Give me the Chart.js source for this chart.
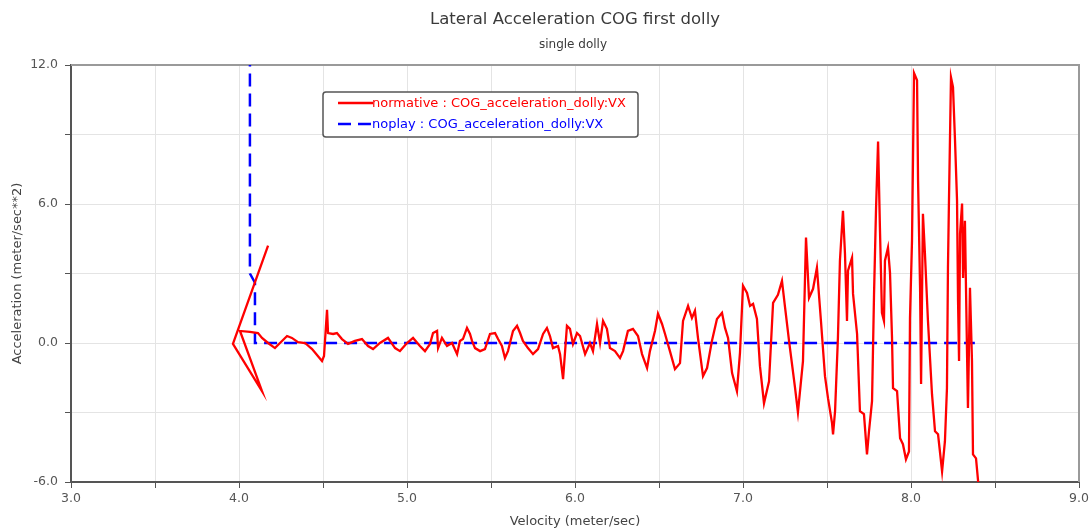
<!DOCTYPE html>
<html>
<head>
<meta charset="utf-8">
<title>Lateral Acceleration COG first dolly</title>
<script src="https://cdn.jsdelivr.net/npm/chart.js@4.4.1/dist/chart.umd.min.js"></script>
<style>
  html, body { margin: 0; padding: 0; background: #fff; }
  #wrap { width: 1092px; height: 529px; }
</style>
</head>
<body>
<div id="wrap"><canvas id="chart" width="1092" height="529"></canvas></div>
<script>
/* Lateral acceleration of the first dolly COG against vehicle velocity */

const chartTitle = 'Lateral Acceleration COG first dolly';
const chartSubtitle = 'single dolly';
const xTitle = 'Velocity (meter/sec)';
const yTitle = 'Acceleration (meter/sec**2)';

const seriesNames = ['normative : COG_acceleration_dolly:VX', 'noplay : COG_acceleration_dolly:VX'];

// normative run: velocity (m/s) and lateral acceleration (m/s^2)
const normVelocity = [
  4.173, 3.964, 4.137, 4.006, 4.065, 4.113, 4.137, 4.173, 4.214, 4.244,
  4.286, 4.315, 4.351, 4.393, 4.435, 4.494, 4.506, 4.524, 4.530, 4.560,
  4.583, 4.613, 4.649, 4.690, 4.732, 4.768, 4.798, 4.839, 4.887, 4.929,
  4.958, 5.000, 5.036, 5.077, 5.107, 5.137, 5.155, 5.179, 5.185, 5.208,
  5.238, 5.268, 5.298, 5.315, 5.333, 5.357, 5.375, 5.387, 5.405, 5.435,
  5.464, 5.494, 5.524, 5.542, 5.565, 5.583, 5.601, 5.631, 5.655, 5.673,
  5.690, 5.720, 5.750, 5.780, 5.810, 5.833, 5.851, 5.869, 5.899, 5.911,
  5.929, 5.952, 5.970, 5.988, 6.012, 6.030, 6.060, 6.089, 6.107, 6.131,
  6.149, 6.167, 6.190, 6.208, 6.238, 6.268, 6.286, 6.315, 6.345, 6.375,
  6.399, 6.429, 6.446, 6.476, 6.494, 6.518, 6.536, 6.565, 6.595, 6.625,
  6.643, 6.673, 6.696, 6.714, 6.732, 6.762, 6.786, 6.815, 6.845, 6.875,
  6.893, 6.911, 6.935, 6.964, 6.982, 7.000, 7.024, 7.042, 7.060, 7.083,
  7.101, 7.125, 7.155, 7.179, 7.208, 7.232, 7.250, 7.274, 7.310, 7.327,
  7.357, 7.375, 7.393, 7.417, 7.440, 7.464, 7.488, 7.506, 7.530, 7.536,
  7.548, 7.565, 7.577, 7.595, 7.607, 7.619, 7.625, 7.649, 7.655, 7.679,
  7.696, 7.720, 7.738, 7.750, 7.768, 7.780, 7.792, 7.804, 7.815, 7.827,
  7.839, 7.845, 7.863, 7.875, 7.887, 7.893, 7.917, 7.935, 7.952, 7.970,
  7.988, 7.994, 8.006, 8.012, 8.018, 8.036, 8.042, 8.054, 8.060, 8.071,
  8.083, 8.101, 8.125, 8.143, 8.161, 8.185, 8.202, 8.214, 8.220, 8.226,
  8.238, 8.250, 8.262, 8.274, 8.280, 8.286, 8.292, 8.304, 8.310, 8.321,
  8.333, 8.339, 8.351, 8.363, 8.369, 8.387, 8.405
];
const normAccel = [
  4.20, -0.04, -2.08, 0.52, 0.48, 0.43, 0.22, 0.00, -0.22, 0.00,
  0.30, 0.22, 0.04, 0.00, -0.26, -0.78, -0.56, 1.43, 0.43, 0.39,
  0.43, 0.17, -0.04, 0.09, 0.17, -0.13, -0.26, 0.00, 0.22, -0.22,
  -0.35, 0.00, 0.22, -0.13, -0.35, -0.04, 0.43, 0.52, -0.22, 0.22,
  -0.13, 0.00, -0.48, 0.09, 0.17, 0.65, 0.39, 0.09, -0.22, -0.35,
  -0.26, 0.39, 0.43, 0.17, -0.13, -0.65, -0.35, 0.52, 0.74, 0.43,
  0.09, -0.22, -0.48, -0.26, 0.39, 0.65, 0.30, -0.22, -0.13, -0.48,
  -1.56, 0.74, 0.61, -0.04, 0.43, 0.30, -0.48, 0.00, -0.35, 0.82,
  0.00, 0.95, 0.61, -0.22, -0.35, -0.65, -0.35, 0.52, 0.61, 0.30,
  -0.48, -1.08, -0.35, 0.52, 1.26, 0.82, 0.39, -0.35, -1.13, -0.87,
  0.95, 1.60, 1.08, 1.39, 0.22, -1.43, -1.08, 0.09, 1.04, 1.30,
  0.65, 0.22, -1.30, -2.08, -0.43, 2.47, 2.16, 1.60, 1.69, 1.04,
  -1.00, -2.60, -1.65, 1.73, 2.08, 2.68, 1.56, 0.09, -1.95, -2.99,
  -0.78, 4.55, 1.95, 2.34, 3.25, 0.95, -1.43, -2.38, -3.46, -3.94,
  -2.94, 0.22, 3.55, 5.71, 3.85, 0.95, 3.12, 3.68, 2.12, 0.39,
  -2.94, -3.07, -4.81, -3.81, -2.51, 2.12, 5.84, 8.70, 4.98, 1.30,
  0.95, 3.55, 4.11, 3.03, 0.22, -1.95, -2.08, -4.11, -4.37, -5.02,
  -4.68, 1.08, 4.42, 8.01, 11.65, 11.34, 7.01, 2.38, -1.77, 5.58,
  3.85, 0.95, -2.21, -3.81, -3.94, -5.54, -4.24, -1.95, 3.25, 6.15,
  11.47, 11.04, 8.74, 6.15, 1.82, -0.78, 4.72, 6.02, 2.81, 5.28,
  -0.22, -2.81, 2.38, -0.78, -4.81, -4.98, -6.40
];

// noplay run: step at start, then flat zero
const noplayVelocity = [4.065, 4.065, 4.095, 4.095, 8.380];
const noplayAccel = [12.5, 3.0, 2.6, 0.0, 0.0];

const xRange = [3, 9];
const yRange = [-6, 12];
const xStep = 0.5;
const yStep = 3;

const FONT = 'DejaVu Sans';

const toPoints = (xs, ys) => xs.map((x, i) => ({ x, y: ys[i] }));

/* plot frame: light top/right edges, axes draw left/bottom */
const framePlugin = {
  id: 'plotFrame',
  beforeDatasetsDraw(chart) {
    const { ctx, chartArea: a } = chart;
    ctx.save();
    ctx.strokeStyle = '#9a9a9a';
    ctx.lineWidth = 2;
    ctx.beginPath();
    ctx.moveTo(a.left, a.top);
    ctx.lineTo(a.right, a.top);
    ctx.lineTo(a.right, a.bottom);
    ctx.stroke();
    ctx.restore();
  },
};

/* titles above the plot */
const headerPlugin = {
  id: 'header',
  afterDraw(chart) {
    const { ctx, chartArea: a } = chart;
    const cx = (a.left + a.right) / 2;
    ctx.save();
    ctx.textAlign = 'center';
    ctx.textBaseline = 'middle';
    ctx.fillStyle = '#3a3a3a';
    ctx.font = '16.5px "' + FONT + '"';
    ctx.fillText(chartTitle, cx, 20);
    ctx.font = '12px "' + FONT + '"';
    ctx.fillText(chartSubtitle, cx - 2, 45);
    ctx.restore();
  },
};

/* boxed legend inside the plot */
const boxLegendPlugin = {
  id: 'boxLegend',
  afterDraw(chart) {
    const { ctx } = chart;
    const x = 323, y = 92, w = 315, h = 45;
    ctx.save();
    ctx.fillStyle = '#ffffff';
    ctx.strokeStyle = '#555555';
    ctx.lineWidth = 1.5;
    ctx.beginPath();
    ctx.roundRect(x, y, w, h, 3);
    ctx.fill();
    ctx.stroke();

    ctx.font = '13px "' + FONT + '"';
    ctx.textBaseline = 'middle';
    chart.data.datasets.forEach((ds, i) => {
      const ly = y + 11 + i * 21;
      ctx.strokeStyle = ds.borderColor;
      ctx.lineWidth = ds.borderWidth;
      ctx.setLineDash(ds.borderDash || []);
      ctx.beginPath();
      ctx.moveTo(x + 15, ly);
      ctx.lineTo(x + 50, ly);
      ctx.stroke();
      ctx.setLineDash([]);
      ctx.fillStyle = ds.borderColor;
      ctx.fillText(ds.label, x + 49, ly + 1);
    });
    ctx.restore();
  },
};

new Chart(document.getElementById('chart'), {
  type: 'scatter',
  data: {
    datasets: [
      {
        label: seriesNames[0],
        data: toPoints(normVelocity, normAccel),
        showLine: true,
        borderColor: '#ff0000',
        borderWidth: 2.3,
        pointRadius: 0,
        tension: 0,
      },
      {
        label: seriesNames[1],
        data: toPoints(noplayVelocity, noplayAccel),
        showLine: true,
        borderColor: '#0000ff',
        borderWidth: 2.5,
        borderDash: [13, 7],
        pointRadius: 0,
        tension: 0,
      },
    ],
  },
  options: {
    responsive: false,
    animation: false,
    layout: { padding: { top: 65, right: 13, left: 0, bottom: 0 } },
    plugins: {
      legend: { display: false },
      title: { display: false },
      tooltip: { enabled: false },
    },
    scales: {
      x: {
        type: 'linear',
        min: xRange[0],
        max: xRange[1],
        afterFit(s) { s.height = 47; },
        grid: { color: '#e4e4e4', lineWidth: 1, tickLength: 6, tickColor: '#555' },
        border: { display: true, color: '#555', width: 2 },
        ticks: {
          stepSize: xStep,
          autoSkip: false,
          maxRotation: 0,
          padding: 3,
          color: '#555',
          font: { family: FONT, size: 12.5 },
          callback: v => (Math.abs(v - Math.round(v)) < 1e-9 ? v.toFixed(1) : ''),
        },
        title: {
          display: true,
          text: xTitle,
          color: '#444',
          font: { family: FONT, size: 13 },
          padding: { top: 1, bottom: 0 },
        },
      },
      y: {
        type: 'linear',
        min: yRange[0],
        max: yRange[1],
        afterFit(s) { s.width = 71; },
        grid: { color: '#e4e4e4', lineWidth: 1, tickLength: 6, tickColor: '#555' },
        border: { display: true, color: '#555', width: 2 },
        ticks: {
          stepSize: yStep,
          autoSkip: false,
          padding: 7,
          color: '#555',
          font: { family: FONT, size: 12.5 },
          callback: v => (v % 6 === 0 ? v.toFixed(1) : ''),
        },
        title: {
          display: true,
          text: yTitle,
          color: '#444',
          font: { family: FONT, size: 13 },
          padding: { top: 10, bottom: 0 },
        },
      },
    },
  },
  plugins: [framePlugin, headerPlugin, boxLegendPlugin],
});
</script>
</body>
</html>
